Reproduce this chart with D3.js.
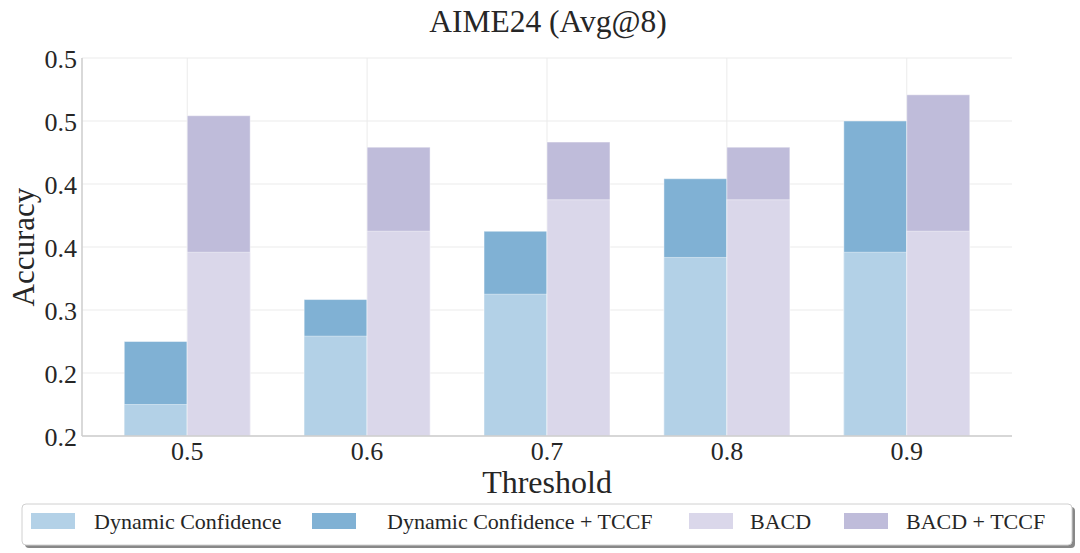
<!DOCTYPE html>
<meta charset="utf-8" />
<style>
  body { margin: 0; background: #fff; }
</style>
<body>
  <div id="chart"></div>
  <script src="https://cdn.jsdelivr.net/npm/d3@7"></script>
  <script>
    const thresholds = ["0.5", "0.6", "0.7", "0.8", "0.9"];
    const dynamicConf = [0.225, 0.2792, 0.3125, 0.3417, 0.3458];
    const dynamicConfTccf = [0.275, 0.3083, 0.3625, 0.4042, 0.45];
    const bacd = [0.3458, 0.3625, 0.3875, 0.3875, 0.3625];
    const bacdTccf = [0.4542, 0.4292, 0.4333, 0.4292, 0.4708];
    const yTicks = [0.2, 0.25, 0.3, 0.35000000000000003, 0.4, 0.45, 0.5];
    const yTickLabels = ["0.2", "0.2", "0.3", "0.4", "0.4", "0.5", "0.5"];

    const colors = {
      dc: "#b3d1e7",
      dcT: "#80b1d4",
      bacd: "#dad7ea",
      bacdT: "#bfbcda",
    };

    const FONT = "'Liberation Serif', 'Times New Roman', Times, serif";
    const width = 1080;
    const height = 553;
    const margin = { left: 82, right: 68, top: 58, bottom: 117 };
    const barW = 0.35;

    const svg = d3.select("#chart").append("svg").attr("width", width).attr("height", height)
      .style("font-family", FONT);

    const x = d3.scaleLinear().domain([-0.585, 4.585]).range([margin.left, width - margin.right]);
    const y = d3.scaleLinear().domain([0.2, 0.5]).range([height - margin.bottom, margin.top]);

    // grid
    svg.append("g")
      .selectAll("line")
      .data(yTicks)
      .join("line")
      .attr("x1", x.range()[0])
      .attr("x2", x.range()[1])
      .attr("y1", (d) => y(d))
      .attr("y2", (d) => y(d))
      .attr("stroke", "#ebebeb")
      .attr("stroke-width", 1);
    svg.append("g")
      .selectAll("line")
      .data(thresholds)
      .join("line")
      .attr("x1", (d, i) => x(i))
      .attr("x2", (d, i) => x(i))
      .attr("y1", y.range()[0])
      .attr("y2", y.range()[1])
      .attr("stroke", "#ebebeb")
      .attr("stroke-width", 1);

    // bars: TCCF version drawn first, base drawn on top
    function drawBars(values, offset, color) {
      svg.append("g")
        .selectAll("rect")
        .data(values)
        .join("rect")
        .attr("x", (d, i) => x(i + offset))
        .attr("width", x(barW) - x(0))
        .attr("y", (d) => y(d))
        .attr("height", (d) => y(0.2) - y(d))
        .attr("fill", color)
        .attr("stroke", "rgba(255,255,255,0.45)")
        .attr("stroke-width", 1);
    }
    drawBars(dynamicConfTccf, -barW, colors.dcT);
    drawBars(dynamicConf, -barW, colors.dc);
    drawBars(bacdTccf, 0, colors.bacdT);
    drawBars(bacd, 0, colors.bacd);

    // spines
    svg.append("line")
      .attr("x1", x.range()[0]).attr("x2", x.range()[0])
      .attr("y1", y.range()[0]).attr("y2", y.range()[1])
      .attr("stroke", "#cccccc").attr("stroke-width", 1.5);
    svg.append("line")
      .attr("x1", x.range()[0]).attr("x2", x.range()[1])
      .attr("y1", y.range()[0]).attr("y2", y.range()[0])
      .attr("stroke", "#cccccc").attr("stroke-width", 1.5);

    function txt(g) {
      return g.attr("font-family", FONT).attr("fill", "#262626");
    }

    // tick labels
    svg.append("g")
      .selectAll("text")
      .data(yTicks)
      .join("text")
      .call(txt)
      .attr("x", x.range()[0] - 5)
      .attr("y", (d) => y(d) + 10)
      .attr("text-anchor", "end")
      .attr("font-size", "26px")
      .text((d, i) => yTickLabels[i]);
    svg.append("g")
      .selectAll("text")
      .data(thresholds)
      .join("text")
      .call(txt)
      .attr("x", (d, i) => x(i))
      .attr("y", y.range()[0] + 24)
      .attr("text-anchor", "middle")
      .attr("font-size", "26px")
      .text((d) => d);

    // labels
    svg.append("text").call(txt)
      .attr("x", 548).attr("y", 32)
      .attr("text-anchor", "middle")
      .attr("font-size", "31.5px")
      .text("AIME24 (Avg@8)");
    svg.append("text").call(txt)
      .attr("x", x(2)).attr("y", 493)
      .attr("text-anchor", "middle")
      .attr("font-size", "32px")
      .text("Threshold");
    svg.append("text").call(txt)
      .attr("transform", "translate(34," + y(0.35) + ") rotate(-90)")
      .attr("text-anchor", "middle")
      .attr("font-size", "31px")
      .text("Accuracy");

    // legend
    const legendItems = [
      { label: "Dynamic Confidence", color: colors.dc, px: 31, tx: 94 },
      { label: "Dynamic Confidence + TCCF", color: colors.dcT, px: 312, tx: 387 },
      { label: "BACD", color: colors.bacd, px: 689, tx: 750 },
      { label: "BACD + TCCF", color: colors.bacdT, px: 844, tx: 906 },
    ];
    const lg = svg.append("g");
    lg.append("rect")
      .attr("x", 25).attr("y", 507).attr("width", 1050).attr("height", 41)
      .attr("rx", 4).attr("fill", "#888");
    lg.append("rect")
      .attr("x", 22).attr("y", 504).attr("width", 1050).attr("height", 41)
      .attr("rx", 4).attr("fill", "#fff").attr("stroke", "#d0d0d0").attr("stroke-width", 1);
    const li = lg.selectAll("g.item").data(legendItems).join("g").attr("class", "item");
    li.append("rect")
      .attr("x", (d) => d.px).attr("y", 513).attr("width", 44).attr("height", 16)
      .attr("fill", (d) => d.color);
    li.append("text").call(txt)
      .attr("x", (d) => d.tx).attr("y", 529)
      .attr("font-size", "22px")
      .text((d) => d.label);
  </script>
</body>
